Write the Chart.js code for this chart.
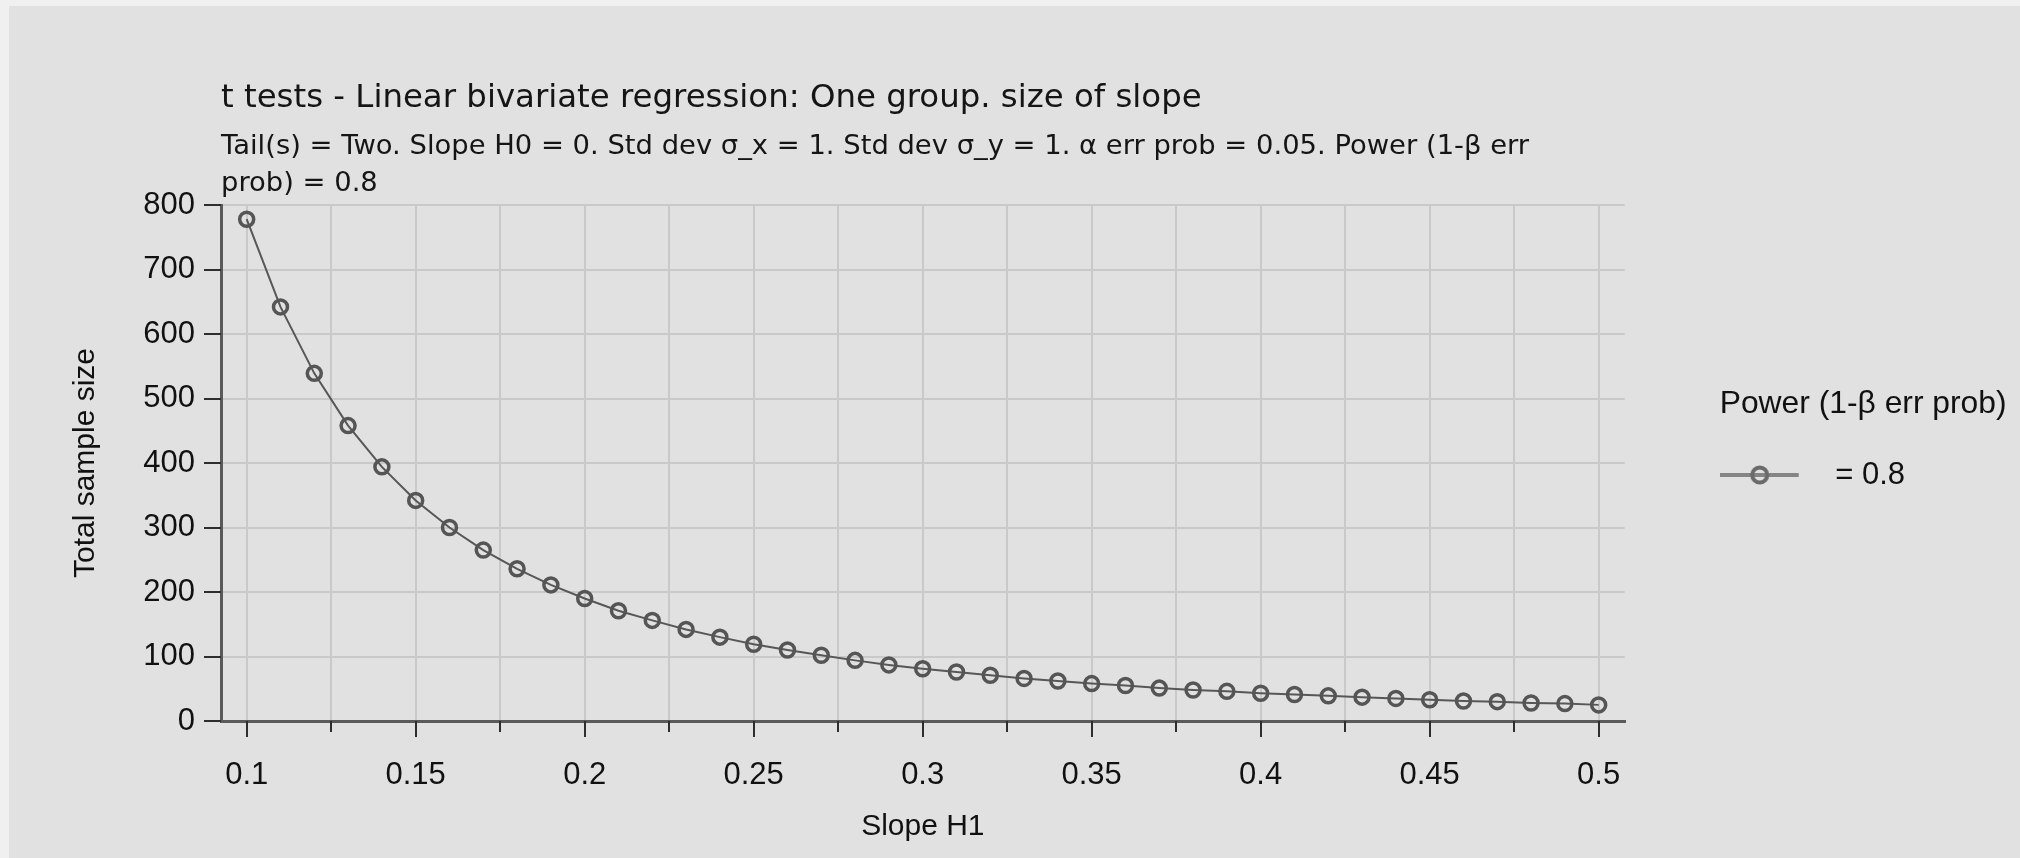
<!DOCTYPE html>
<html>
<head>
<meta charset="utf-8">
<script src="https://cdn.jsdelivr.net/npm/chart.js@4.4.1/dist/chart.umd.min.js"></script>
<style>
  html, body { margin: 0; padding: 0; background: #e1e1e1; overflow: hidden; }
  canvas { display: block; }
</style>
</head>
<body>
<canvas id="powerPlot" width="2020" height="858"></canvas>
<script>
// datos (G*Power)
const slopeH1 = [0.10, 0.11, 0.12, 0.13, 0.14, 0.15, 0.16, 0.17, 0.18, 0.19,
  0.20, 0.21, 0.22, 0.23, 0.24, 0.25, 0.26, 0.27, 0.28, 0.29,
  0.30, 0.31, 0.32, 0.33, 0.34, 0.35, 0.36, 0.37, 0.38, 0.39,
  0.40, 0.41, 0.42, 0.43, 0.44, 0.45, 0.46, 0.47, 0.48, 0.49, 0.50];
const totalSampleSize = [778, 642, 539, 458, 394, 342, 300, 265, 236, 211,
  190, 171, 156, 142, 130, 119, 110, 102, 94, 87,
  81, 76, 71, 66, 62, 58, 55, 51, 48, 46,
  43, 41, 39, 37, 35, 33, 31, 30, 28, 27, 25];
const seriesLabel = "= 0.8";

// ticks
const xMajorTicks = [0.1, 0.15, 0.2, 0.25, 0.3, 0.35, 0.4, 0.45, 0.5];
const xMinorTicks = [0.125, 0.175, 0.225, 0.275, 0.325, 0.375, 0.425, 0.475];
const yMajorTicks = [0, 100, 200, 300, 400, 500, 600, 700, 800];
const yMinorTicks = [50, 150, 250, 350, 450, 550, 650, 750];

const titleText = "t tests - Linear bivariate regression: One group. size of slope";
const subtitleText = [
  "Tail(s) = Two. Slope H0 = 0. Std dev σ_x = 1. Std dev σ_y = 1. α err prob = 0.05. Power (1-β err",
  "prob) = 0.8"
];

//Marcador de la leyenda (linea + circulo)
const legendMarker = document.createElement("canvas");
legendMarker.width = 100;
legendMarker.height = 26;
{
  const c = legendMarker.getContext("2d");
  c.strokeStyle = "#858585";
  c.lineWidth = 4;
  c.beginPath();
  c.moveTo(0, 13);
  c.lineTo(79, 13);
  c.stroke();
  c.strokeStyle = "#6a6a6a";
  c.beginPath();
  c.arc(40, 13, 7.5, 0, Math.PI * 2);
  c.stroke();
}

//Fondo gris con borde claro arriba/izquierda
const backdrop = {
  id: "backdrop",
  beforeDraw(chart) {
    const { ctx, width, height } = chart;
    ctx.save();
    ctx.fillStyle = "#f0f0f0";
    ctx.fillRect(0, 0, width, height);
    ctx.fillStyle = "#e1e1e1";
    ctx.fillRect(9, 6, width - 9, height - 6);
    ctx.restore();
  },
};

//La leyenda recorta su dibujo: ensancho la caja hasta el borde
const legendRoom = {
  id: "legendRoom",
  afterLayout(chart) {
    const lg = chart.legend;
    if (!lg) return;
    lg.right = chart.width;
    lg.width = lg.right - lg.left;
  },
};

//Marcas de los ejes (mayores largas, menores cortas)
const tickMarks = {
  id: "tickMarks",
  afterDraw(chart) {
    const { ctx, chartArea, scales } = chart;
    ctx.save();
    ctx.strokeStyle = "#2e2e2e";
    ctx.lineWidth = 2;
    ctx.beginPath();
    scales.x.ticks.forEach((t) => {
      const px = Math.round(scales.x.getPixelForValue(t.value));
      const len = xMajorTicks.includes(t.value) ? 16 : 11;
      ctx.moveTo(px, chartArea.bottom);
      ctx.lineTo(px, chartArea.bottom + len);
    });
    scales.y.ticks.forEach((t) => {
      const py = Math.round(scales.y.getPixelForValue(t.value));
      const len = yMajorTicks.includes(t.value) ? 17 : 11;
      ctx.moveTo(chartArea.left, py);
      ctx.lineTo(chartArea.left - len, py);
    });
    ctx.stroke();
    ctx.restore();
  },
};

const tickFont = { family: "'Liberation Sans', Arial, sans-serif", size: 31 };
const axisTitleFont = { family: "'Liberation Sans', Arial, sans-serif", size: 30 };
const gridColor = "#c9c9c9";
const axisColor = "#5a5a5a";

const powerPlot = document.getElementById("powerPlot");

new Chart(powerPlot, {
  type: "line",
  data: {
    datasets: [
      {
        label: seriesLabel,
        data: slopeH1.map((x, i) => ({ x: x, y: totalSampleSize[i] })),
        borderColor: "#575757",
        borderWidth: 2,
        tension: 0,
        pointStyle: "circle",
        pointRadius: 7,
        pointBorderWidth: 3.5,
        pointBorderColor: "#555555",
        pointBackgroundColor: "rgba(0,0,0,0)",
        clip: false,
      },
    ],
  },
  options: {
    responsive: false,
    animation: false,
    devicePixelRatio: 1,
    layout: { padding: { left: 0, top: 0, bottom: 0, right: 105 } },
    scales: {
      x: {
        type: "linear",
        min: 0.0924,
        max: 0.5077,
        afterBuildTicks: (scale) => {
          scale.ticks = xMajorTicks.concat(xMinorTicks).sort((a, b) => a - b).map((v) => ({ value: v }));
        },
        afterFit: (scale) => { scale.height = 137; },
        ticks: {
          autoSkip: false,
          maxRotation: 0,
          padding: 21,
          color: "#111",
          font: tickFont,
          callback: (v) => (xMajorTicks.includes(v) ? String(v) : ""),
        },
        grid: { color: gridColor, lineWidth: 2, drawTicks: true, tickLength: 15, tickColor: "rgba(0,0,0,0)" },
        border: { display: true, color: axisColor, width: 3 },
        title: { display: true, text: "Slope H1", color: "#111", font: axisTitleFont, padding: { top: 0, bottom: 13 } },
      },
      y: {
        type: "linear",
        min: 0,
        max: 800,
        afterBuildTicks: (scale) => {
          scale.ticks = yMajorTicks.concat(yMinorTicks).sort((a, b) => a - b).map((v) => ({ value: v }));
        },
        afterFit: (scale) => { scale.width = 221; },
        ticks: {
          padding: 11,
          color: "#111",
          font: tickFont,
          callback: (v) => (yMajorTicks.includes(v) ? String(v) : ""),
        },
        grid: { color: gridColor, lineWidth: 2, drawTicks: true, tickLength: 15, tickColor: "rgba(0,0,0,0)" },
        border: { display: true, color: axisColor, width: 3 },
        title: { display: true, text: "Total sample size", color: "#111", font: axisTitleFont, padding: { top: 68, bottom: 0 } },
      },
      //eje vacio: separa el area del grafico de la leyenda
      gap: {
        type: "linear",
        position: "right",
        display: true,
        grid: { display: false },
        border: { display: false },
        ticks: { display: false },
        afterFit: (scale) => { scale.width = 95; },
      },
    },
    plugins: {
      title: {
        display: true,
        text: titleText,
        align: "start",
        fullSize: false,
        color: "#151515",
        font: { family: "'DejaVu Sans', sans-serif", size: 32.4, weight: "normal", lineHeight: "38px" },
        padding: { top: 80, bottom: 0 },
      },
      subtitle: {
        display: true,
        text: subtitleText,
        align: "start",
        fullSize: false,
        color: "#151515",
        font: { family: "'DejaVu Sans', sans-serif", size: 27.4, lineHeight: "37px" },
        padding: { top: 10, bottom: 3 },
      },
      legend: {
        display: true,
        position: "right",
        align: "center",
        fullSize: true,
        title: {
          display: true,
          text: "Power (1-β err prob)",
          position: "start",
          color: "#111",
          font: { family: "'Liberation Sans', Arial, sans-serif", size: 31.8 },
          padding: { top: 21, bottom: 32.8 },
        },
        labels: {
          usePointStyle: true,
          pointStyle: legendMarker,
          pointStyleWidth: 100,
          padding: 0,
          color: "#111",
          font: { family: "'Liberation Sans', Arial, sans-serif", size: 31 },
        },
      },
      tooltip: { enabled: false },
    },
  },
  plugins: [backdrop, legendRoom, tickMarks],
});
</script>
</body>
</html>
